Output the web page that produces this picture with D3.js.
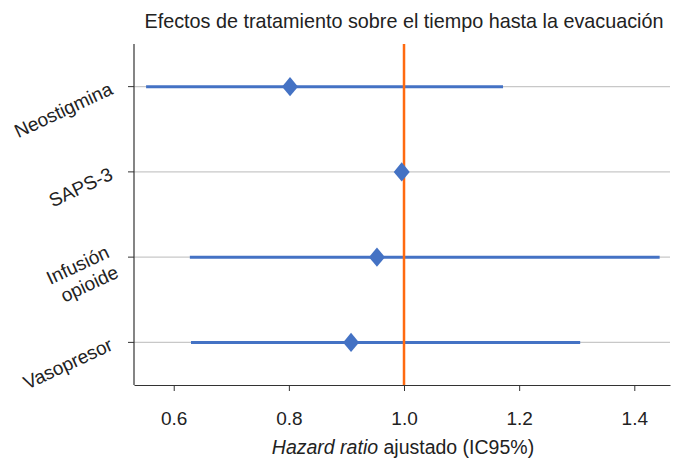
<!DOCTYPE html>
<html>
<head>
<meta charset="utf-8">
<script src="https://cdn.jsdelivr.net/npm/d3@7"></script>
<style>
  body { margin: 0; background: #fff; }
  svg { font-family: "Liberation Sans", Arial, sans-serif; }
</style>
</head>
<body>
<div id="chart"></div>
<script>
// Forest plot: adjusted hazard ratios with 95% CI
const categories = ['Neostigmina', 'SAPS-3', 'Infusión opioide', 'Vasopresor'];
const labelLines = [['Neostigmina'], ['SAPS-3'], ['Infusión', 'opioide'], ['Vasopresor']];
const hr = [0.802, 0.996, 0.953, 0.908];
const lower = [0.552, 0.99, 0.628, 0.630];
const upper = [1.172, 1.002, 1.444, 1.306];
const xTicks = [0.6, 0.8, 1.0, 1.2, 1.4];
const refValue = 1.0;

const width = 675, height = 458;
const margin = { top: 44, right: 5, bottom: 73, left: 134 };

const svg = d3.select('#chart').append('svg')
  .attr('width', width)
  .attr('height', height);

const x = d3.scaleLinear()
  .domain([0.531, 1.462])
  .range([margin.left, width - margin.right]);

const y = d3.scaleBand()
  .domain(categories)
  .range([margin.top, height - margin.bottom]);

const yc = d => y(d) + y.bandwidth() / 2;

// slightly tall diamond marker
const tallDiamond = {
  draw(ctx, size) {
    const w = Math.sqrt(size) / 2, h = w * 1.2;
    ctx.moveTo(0, -h);
    ctx.lineTo(w, 0);
    ctx.lineTo(0, h);
    ctx.lineTo(-w, 0);
    ctx.closePath();
  }
};

// gridlines at each category
svg.append('g')
  .selectAll('line')
  .data(categories)
  .join('line')
  .attr('x1', margin.left)
  .attr('x2', width - margin.right)
  .attr('y1', d => yc(d))
  .attr('y2', d => yc(d))
  .attr('stroke', '#c8c8c8')
  .attr('stroke-width', 1.2);

// y tick marks
svg.append('g')
  .selectAll('line')
  .data(categories)
  .join('line')
  .attr('x1', margin.left - 6)
  .attr('x2', margin.left)
  .attr('y1', d => yc(d))
  .attr('y2', d => yc(d))
  .attr('stroke', '#333');

// y labels, rotated
const ylab = svg.append('g')
  .selectAll('text')
  .data(categories)
  .join('text')
  .attr('transform', d => `translate(${margin.left - 20},${yc(d) + 7}) rotate(-25)`)
  .attr('text-anchor', 'end')
  .attr('font-size', 19)
  .attr('fill', '#222');

ylab.each(function(d, i) {
  const lines = labelLines[i];
  const t = d3.select(this);
  lines.forEach((ln, j) => {
    t.append('tspan')
      .attr('x', 0)
      .attr('y', (j - (lines.length - 1) / 2) * 22 + (lines.length > 1 ? 3 : 0))
      .text(ln);
  });
});

// x axis
const xAxis = d3.axisBottom(x)
  .tickValues(xTicks)
  .tickFormat(d3.format('.1f'))
  .tickSize(6)
  .tickSizeOuter(0)
  .tickPadding(0);

const gx = svg.append('g')
  .attr('transform', `translate(0,${height - margin.bottom})`)
  .call(xAxis);
gx.select('.domain').attr('stroke', '#333').attr('stroke-width', 1.2);
gx.selectAll('.tick line').attr('stroke', '#333');
gx.selectAll('.tick text')
  .attr('dy', null)
  .attr('y', 40)
  .attr('font-size', 19)
  .attr('fill', '#222')
  .attr('font-family', '"Liberation Sans", Arial, sans-serif');

// y axis line
svg.append('line')
  .attr('x1', margin.left)
  .attr('x2', margin.left)
  .attr('y1', margin.top)
  .attr('y2', height - margin.bottom)
  .attr('stroke', '#333')
  .attr('stroke-width', 1.2);

// CI lines
svg.append('g')
  .selectAll('line')
  .data(categories)
  .join('line')
  .attr('x1', (d, i) => x(lower[i]))
  .attr('x2', (d, i) => x(upper[i]))
  .attr('y1', d => yc(d))
  .attr('y2', d => yc(d))
  .attr('stroke', '#4472C4')
  .attr('stroke-width', 3);

// reference line at HR = 1
svg.append('line')
  .attr('x1', x(refValue))
  .attr('x2', x(refValue))
  .attr('y1', margin.top)
  .attr('y2', height - margin.bottom)
  .attr('stroke', '#FF6A10')
  .attr('stroke-width', 2.5);

// point estimates as diamonds
svg.append('g')
  .selectAll('path')
  .data(categories)
  .join('path')
  .attr('d', d3.symbol(tallDiamond, 256))
  .attr('transform', (d, i) => `translate(${x(hr[i])},${yc(d)})`)
  .attr('fill', '#4472C4');

// title
svg.append('text')
  .attr('x', 404)
  .attr('y', 28)
  .attr('text-anchor', 'middle')
  .attr('font-size', 19.8)
  .attr('fill', '#222')
  .text('Efectos de tratamiento sobre el tiempo hasta la evacuación');

// x axis label
const xl = svg.append('text')
  .attr('x', 403)
  .attr('y', 454)
  .attr('text-anchor', 'middle')
  .attr('font-size', 19.5)
  .attr('fill', '#222');
xl.append('tspan').attr('font-style', 'italic').text('Hazard ratio');
xl.append('tspan').text(' ajustado (IC95%)');
</script>
</body>
</html>
